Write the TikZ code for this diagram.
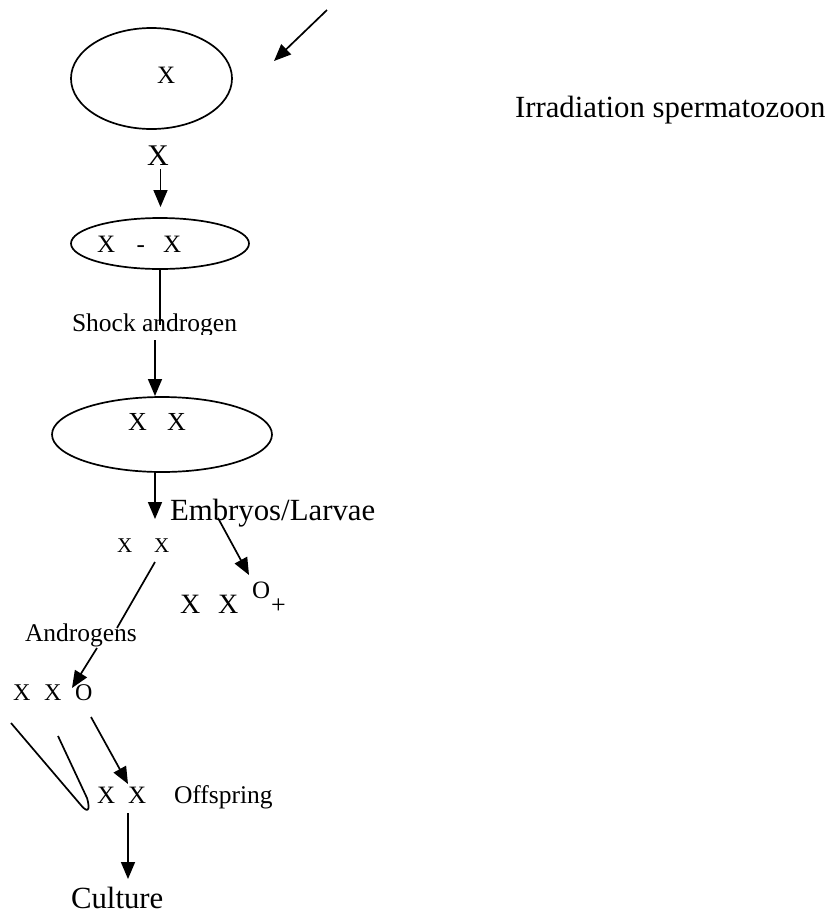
\documentclass[tikz,border=0pt]{standalone}
\usepackage{fontspec}
\setmainfont{Liberation Serif}
\usetikzlibrary{shapes.geometric,arrows.meta}
\tikzset{
  ln/.style={line width=1.7pt},
  arr/.style={line width=1.7pt,-{Triangle[length=17pt,width=14pt]}},
  oval/.style={draw,ellipse,line width=1.7pt,inner sep=0pt},
  txt/.style={inner sep=0pt,outer sep=0pt,anchor=base west},
  fbig/.style={font=\fontsize{30.8}{36}\selectfont},
  fsmall/.style={font=\fontsize{25.5}{30}\selectfont},
  fx/.style={font=\fontsize{#1}{#1}\selectfont}
}
\begin{document}
\begin{tikzpicture}[x=1pt,y=-1pt]
\useasboundingbox (0,0) rectangle (826,914);
% ovals
\node[oval,minimum width=161pt,minimum height=101pt] (e1) at (151.5,78.5) {};
\node[oval,minimum width=178pt,minimum height=51pt] (e2) at (160,243.5) {};
\node[oval,minimum width=220pt,minimum height=75pt] (e3) at (162,434.5) {};
% texts
\node[txt,fx=25] (x1) at (157,83) {X};
\node[txt,fbig] (irr) at (515,117) {Irradiation spermatozoon};
\node[txt,fx=30] (xlab) at (147,165) {X};
\node[txt,fx=25] (x2a) at (97,252) {X};
\node[txt,fx=25] (x2d) at (136.5,252) {-};
\node[txt,fx=25] (x2b) at (163,252) {X};
\begin{scope}
\clip (60,290) rectangle (260,334);
\node[txt,fsmall] (shock) at (72,331) {Shock androgen};
\end{scope}
\node[txt,fx=26] (x3a) at (128,430) {X};
\node[txt,fx=26] (x3b) at (167,430) {X};
\node[txt,fbig] (emb) at (170,520) {Embryos/Larvae};
\node[txt,fx=21] (x4a) at (117,552) {X};
\node[txt,fx=21] (x4b) at (154,552) {X};
\node[txt,fx=28] (x5a) at (180,613) {X};
\node[txt,fx=28] (x5b) at (218,613) {X};
\node[txt,fx=25] (o5) at (252,598) {O};
\node[txt,fx=26] (p5) at (271,613) {+};
\node[txt,fsmall] (andr) at (25,641) {Androgens};
\node[txt,fx=24] (x6a) at (13,700) {X};
\node[txt,fx=24] (x6b) at (44,700) {X};
\node[txt,fx=24] (o6) at (75,700) {O};
\node[txt,fx=25] (x7a) at (97,803) {X};
\node[txt,fx=25] (x7b) at (128,803) {X};
\node[txt,fsmall] (off) at (174,803) {Offspring};
\node[txt,fbig] (cult) at (71,908) {Culture};
% connector end points
\coordinate (irrS) at (327,10);
\coordinate (irrE) at (274,61);
\coordinate (c2s) at (160.5,169);
\coordinate (c2e) at (160.5,207);
\coordinate (c3s) at (160,270);
\coordinate (c3e) at (160,325);
\coordinate (c4s) at (155,340);
\coordinate (c4e) at (155,396);
\coordinate (c5s) at (155,473);
\coordinate (c5e) at (155,519);
\coordinate (c6s) at (218,518);
\coordinate (c6e) at (249,575);
\coordinate (c7s) at (155,562);
\coordinate (c7e) at (117,628);
\coordinate (c8s) at (97,648);
\coordinate (c8e) at (72,688);
\coordinate (l1) at (11,723);
\coordinate (l2) at (58,736);
\coordinate (c10s) at (91,717);
\coordinate (c10e) at (128,784);
\coordinate (c11s) at (128,813);
\coordinate (c11e) at (128,879);
% connectors
\draw[arr] (irrS) -- (irrE);
\draw[arr] (c2s) -- (c2e);
\draw[ln] (c3s) -- (c3e);
\draw[arr] (c4s) -- (c4e);
\draw[arr] (c5s) -- (c5e);
\draw[arr] (c6s) -- (c6e);
\draw[ln] (c7s) -- (c7e);
\draw[arr] (c8s) -- (c8e);
\draw[ln,line join=round] (l1) -- (80,804) .. controls (87,813) and (91,812) .. (87,798) -- (l2);
\draw[arr] (c10s) -- (c10e);
\draw[arr] (c11s) -- (c11e);
\end{tikzpicture}
\end{document}
